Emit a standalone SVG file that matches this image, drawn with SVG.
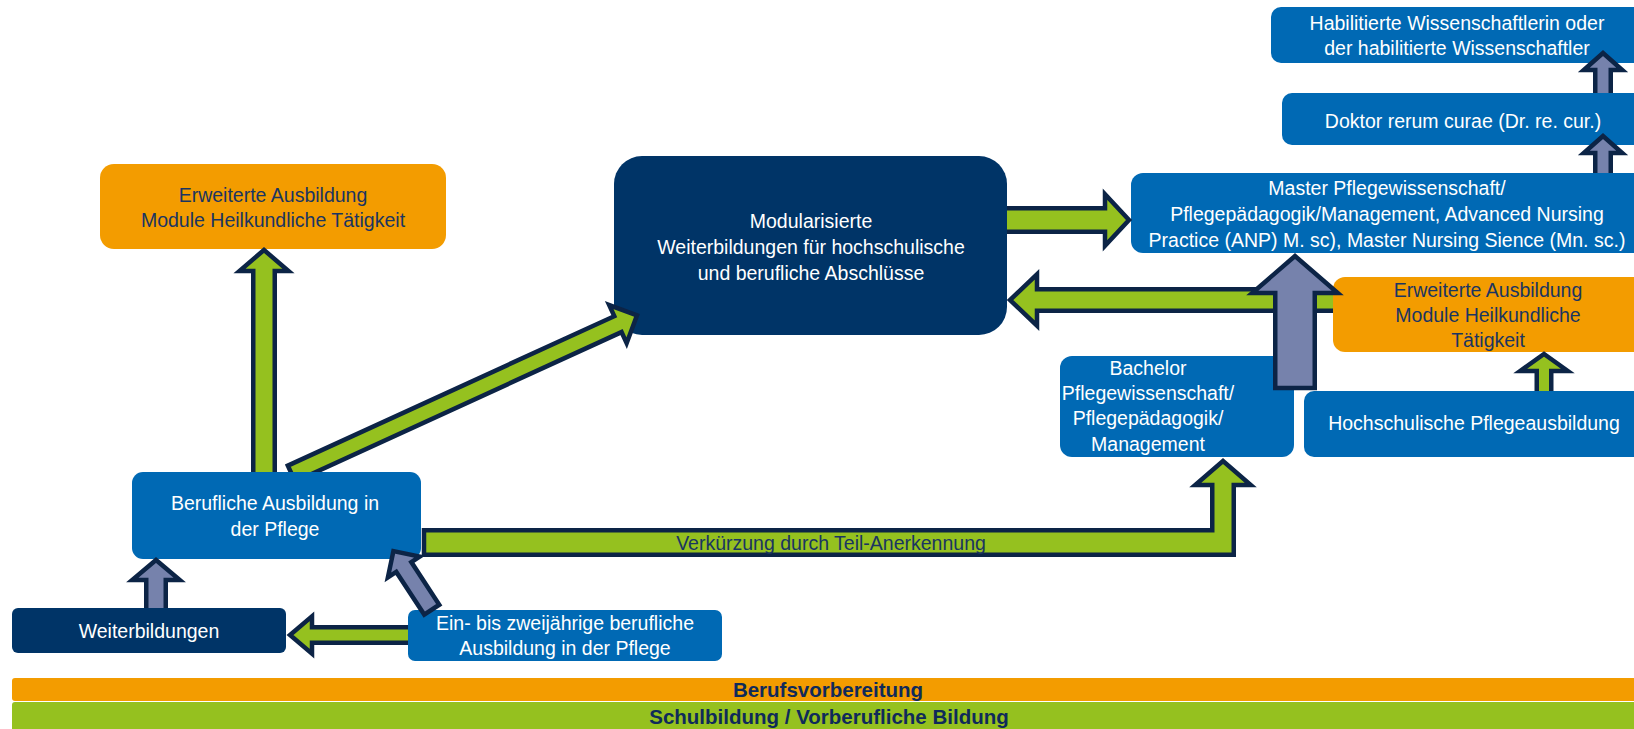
<svg xmlns="http://www.w3.org/2000/svg" width="1634" height="729" viewBox="0 0 1634 729">
<defs>
<style>
.blue{fill:#0069b4}
.navy{fill:#003467}
.orange{fill:#f39c00}
.t{font-family:"Liberation Sans",Arial,sans-serif;font-size:19.5px;text-anchor:middle}
.w{fill:#ffffff}
.d{fill:#1a3562}
.ag{fill:#95c11f;stroke:#0c2446;stroke-width:4.5;stroke-linejoin:miter;stroke-miterlimit:10}
.ay{fill:#7682ac;stroke:#0c2446;stroke-width:4.5;stroke-linejoin:miter;stroke-miterlimit:10}
.bt{font-family:"Liberation Sans",Arial,sans-serif;font-size:20.5px;font-weight:bold;text-anchor:middle;fill:#0f2a5a}
</style>
<clipPath id="abovebox"><rect x="0" y="0" width="1634" height="472"/></clipPath>
</defs>
<rect width="1634" height="729" fill="#ffffff"/>

<g id="bars">
<rect x="12" y="678" width="1640" height="23" rx="3" class="orange"/>
<text x="828" y="697" class="bt">Berufsvorbereitung</text>
<rect x="12" y="702" width="1640" height="30" rx="3" fill="#95c11f"/>
<text x="829" y="724" class="bt">Schulbildung / Vorberufliche Bildung</text>
</g>

<g id="nodes">
<g id="n-habil">
<rect x="1271" y="7" width="380" height="56" rx="10" class="blue"/>
<text class="t w" x="1457" y="30">Habilitierte Wissenschaftlerin oder</text>
<text class="t w" x="1457" y="55">der habilitierte Wissenschaftler</text>
</g>
<g id="n-doktor">
<rect x="1282" y="93" width="370" height="52" rx="10" class="blue"/>
<text class="t w" x="1463" y="128">Doktor rerum curae (Dr. re. cur.)</text>
</g>
<g id="n-master">
<rect x="1131" y="173" width="520" height="80" rx="12" class="blue"/>
<text class="t w" x="1387" y="195">Master Pflegewissenschaft/</text>
<text class="t w" x="1387" y="221">Pflegepädagogik/Management, Advanced Nursing</text>
<text class="t w" x="1387" y="247">Practice (ANP) M. sc), Master Nursing Sience (Mn. sc.)</text>
</g>
<g id="n-erweitert-r">
<rect x="1333" y="277" width="320" height="75" rx="12" class="orange"/>
<text class="t d" x="1488" y="297">Erweiterte Ausbildung</text>
<text class="t d" x="1488" y="322">Module Heilkundliche</text>
<text class="t d" x="1488" y="347">Tätigkeit</text>
</g>
<g id="n-bachelor">
<rect x="1060" y="356" width="234" height="101" rx="12" class="blue"/>
<text class="t w" x="1148" y="375">Bachelor</text>
<text class="t w" x="1148" y="400">Pflegewissenschaft/</text>
<text class="t w" x="1148" y="425">Pflegepädagogik/</text>
<text class="t w" x="1148" y="451">Management</text>
</g>
<g id="n-hochschul">
<rect x="1304" y="391" width="350" height="66" rx="10" class="blue"/>
<text class="t w" x="1474" y="430">Hochschulische Pflegeausbildung</text>
</g>
<g id="n-modular">
<rect x="614" y="156" width="393" height="179" rx="28" class="navy"/>
<text class="t w" x="811" y="228">Modularisierte</text>
<text class="t w" x="811" y="254">Weiterbildungen für hochschulische</text>
<text class="t w" x="811" y="280">und berufliche Abschlüsse</text>
</g>
<g id="n-erweitert-l">
<rect x="100" y="164" width="346" height="85" rx="14" class="orange"/>
<text class="t d" x="273" y="202">Erweiterte Ausbildung</text>
<text class="t d" x="273" y="227">Module Heilkundliche Tätigkeit</text>
</g>
<g id="n-beruflich">
<rect x="132" y="472" width="289" height="87" rx="11" class="blue"/>
<text class="t w" x="275" y="510">Berufliche Ausbildung in</text>
<text class="t w" x="275" y="536">der Pflege</text>
</g>
<g id="n-weiter">
<rect x="12" y="608" width="274" height="45" rx="6" class="navy"/>
<text class="t w" x="149" y="638">Weiterbildungen</text>
</g>
<g id="n-einbis">
<rect x="408" y="610" width="314" height="51" rx="7" class="blue"/>
<text class="t w" x="565" y="630">Ein- bis zweijährige berufliche</text>
<text class="t w" x="565" y="655">Ausbildung in der Pflege</text>
</g>
</g>

<g id="connectors">
<path class="ag" d="M253.25 472 V271 H239.5 L264 250 L288.5 271 H274.75 V472"/>
<g clip-path="url(#abovebox)">
<path class="ag" transform="translate(637,315.4) rotate(-24.6)" d="M-380 -8.75 H-21 V-21 L0 0 L-21 21 V8.75 H-380 Z"/>
</g>
<path class="ag" d="M1007 208.25 H1105 V194.25 L1129 220 L1105 245.75 V231.75 H1007"/>
<path class="ag" d="M1333 289.25 H1037 V274.25 L1010 300 L1037 325.75 V310.75 H1333"/>
<path class="ay" d="M1275.25 388 V293 H1252.25 L1295 256 L1337.75 293 H1314.75 V388 Z"/>
<path class="ay" d="M1595.25 93 V70 H1583.75 L1603 53 L1622.25 70 H1610.75 V93"/>
<path class="ay" d="M1595.25 173 V153 H1583.75 L1603 136 L1622.25 153 H1610.75 V173"/>
<path class="ag" d="M1536.75 391 V371 H1520.25 L1544 354 L1567.75 371 H1551.25 V391"/>
<path class="ag" d="M424 530.25 H1212.25 V485 H1195.25 L1223 461 L1250.75 485 H1233.75 V554.75 H424 Z"/>
<text class="t d" x="831" y="550">Verkürzung durch Teil-Anerkennung</text>
<path class="ay" d="M146.25 608 V580 H132.25 L156 560 L179.75 580 H165.75 V608"/>
<path class="ag" d="M408 627.25 H312 V616.25 L290 635 L312 653.75 V642.75 H408"/>
<path class="ay" transform="translate(393.4,551.1) rotate(-123.2)" d="M-70 -9 H-19 V-19 L0 0 L-19 19 V9 H-70 Z"/>
</g>
</svg>
